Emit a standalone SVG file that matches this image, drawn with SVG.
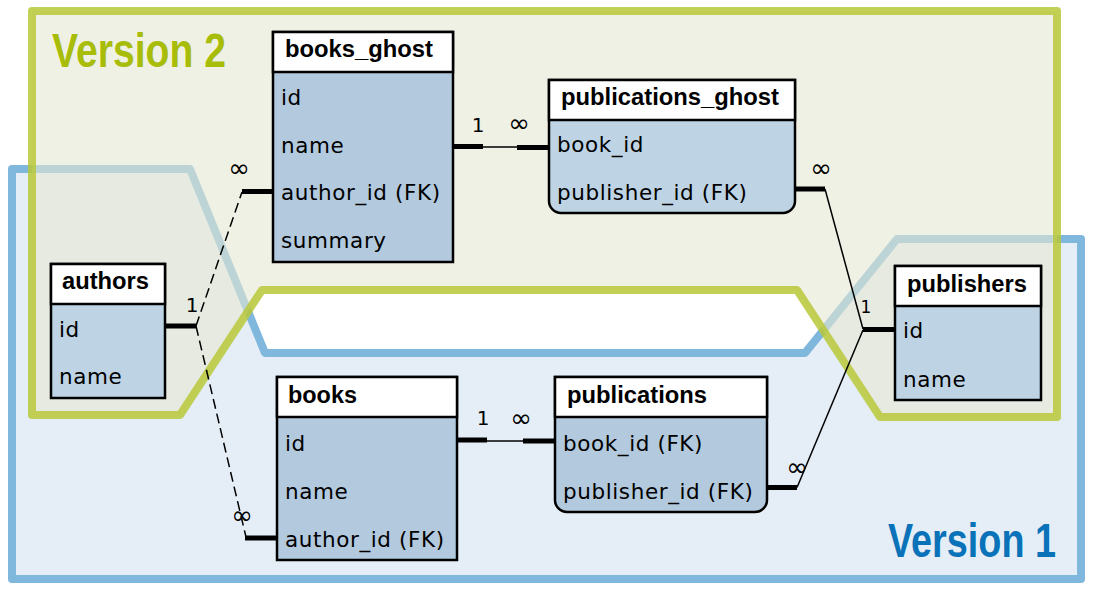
<svg xmlns="http://www.w3.org/2000/svg" width="1094" height="592" viewBox="0 0 1094 592">
<defs>
<style>
.hdr{fill:#ffffff;stroke:#000;stroke-width:2.5}
.body1{fill:#b3c9dd;stroke:#000;stroke-width:2.5}
.body2{fill:#bed3e3;stroke:#000;stroke-width:2.5}
.title{font-family:"Liberation Sans",Arial,sans-serif;font-weight:bold;font-size:23px;fill:#000}
.fld{font-family:"DejaVu Sans","Noto Sans",sans-serif;font-size:21.5px;letter-spacing:0.6px;fill:#000}
.lbl{font-family:"DejaVu Sans","Noto Sans",sans-serif;font-size:20px;fill:#000;text-anchor:middle}
.inf{font-family:"DejaVu Sans","Noto Sans",sans-serif;font-size:26px;fill:#000;text-anchor:middle}
.stub{stroke:#000;stroke-width:5;fill:none}
.thin{stroke:#000;stroke-width:1.5;fill:none}
.dash{stroke:#000;stroke-width:1.5;fill:none;stroke-dasharray:10 5}
.ver{font-family:"Liberation Sans",Arial,sans-serif;font-weight:bold;font-size:48px}
</style>
</defs>
<rect width="1094" height="592" fill="#ffffff"/>
<g id="version1">
<path d="M12,169 L190,169 L265,353 L805,353 L897,239 L1081,239 L1081,579 L12,579 Z" fill="#e5eef6" stroke="#80b7dc" stroke-width="8" stroke-linejoin="round"/>
<text class="ver" transform="translate(888,557) scale(0.787,1)" x="0" y="0" fill="#0a72b8">Version 1</text>
</g>
<g id="version2">
<path d="M32,11 L1057,11 L1057,417 L880,417 L797,290 L262,290 L180,415 L32,415 Z" fill="#e6e8d4" fill-opacity="0.6" stroke="#b8c838" stroke-opacity="0.85" stroke-width="8" stroke-linejoin="round"/>
<text class="ver" transform="translate(52,67) scale(0.815,1)" x="0" y="0" fill="#a8bc0a">Version 2</text>
</g>
<g id="books_ghost">
<rect class="body1" x="273" y="32" width="180" height="230"/>
<rect class="hdr" x="273" y="32" width="180" height="40"/>
<text class="title" x="285" y="57" textLength="148" lengthAdjust="spacingAndGlyphs">books_ghost</text>
<text class="fld" x="281" y="105">id</text>
<text class="fld" x="281" y="153">name</text>
<text class="fld" x="281" y="200">author_id (FK)</text>
<text class="fld" x="281" y="248">summary</text>
</g>
<g id="publications_ghost">
<path class="body2" d="M549,80 H795 V201 A12,12 0 0 1 783,213 H561 A12,12 0 0 1 549,201 Z"/>
<rect class="hdr" x="549" y="80" width="246" height="40"/>
<text class="title" x="561" y="105" textLength="218" lengthAdjust="spacingAndGlyphs">publications_ghost</text>
<text class="fld" x="557" y="152">book_id</text>
<text class="fld" x="557" y="200">publisher_id (FK)</text>
</g>
<g id="authors">
<rect class="body2" x="51" y="264" width="114" height="134"/>
<rect class="hdr" x="51" y="264" width="114" height="40"/>
<text class="title" x="62" y="289" textLength="87" lengthAdjust="spacingAndGlyphs">authors</text>
<text class="fld" x="59" y="337">id</text>
<text class="fld" x="59" y="384">name</text>
</g>
<g id="publishers">
<rect class="body2" x="895" y="266" width="146" height="134"/>
<rect class="hdr" x="895" y="266" width="146" height="40"/>
<text class="title" x="907" y="292" textLength="120" lengthAdjust="spacingAndGlyphs">publishers</text>
<text class="fld" x="903" y="338">id</text>
<text class="fld" x="903" y="387">name</text>
</g>
<g id="books">
<rect class="body1" x="277" y="377" width="180" height="183"/>
<rect class="hdr" x="277" y="377" width="180" height="40"/>
<text class="title" x="288" y="403" textLength="69" lengthAdjust="spacingAndGlyphs">books</text>
<text class="fld" x="285" y="451">id</text>
<text class="fld" x="285" y="499">name</text>
<text class="fld" x="285" y="547">author_id (FK)</text>
</g>
<g id="publications">
<path class="body1" d="M555,377 H767 V500 A12,12 0 0 1 755,512 H567 A12,12 0 0 1 555,500 Z"/>
<rect class="hdr" x="555" y="377" width="212" height="40"/>
<text class="title" x="567" y="403" textLength="140" lengthAdjust="spacingAndGlyphs">publications</text>
<text class="fld" x="563" y="451">book_id (FK)</text>
<text class="fld" x="563" y="499">publisher_id (FK)</text>
</g>
<g id="connectors">
<path class="stub" d="M453,146.5 H483"/>
<path class="thin" d="M483,147 H517"/>
<path class="stub" d="M517,147.5 H549"/>
<text class="lbl" x="478" y="132">1</text>
<text class="inf" x="519" y="132">∞</text>

<path class="stub" d="M457,440 H487"/>
<path class="thin" d="M487,441 H523"/>
<path class="stub" d="M523,441 H555"/>
<text class="lbl" x="483" y="425">1</text>
<text class="inf" x="521" y="427">∞</text>

<path class="stub" d="M165,326 H196"/>
<path class="dash" d="M196,326 L242,192"/>
<path class="stub" d="M242,191.5 H273"/>
<path class="dash" d="M196,326 L246,537"/>
<path class="stub" d="M245,538 H277"/>
<text class="lbl" x="192" y="312">1</text>
<text class="inf" x="239" y="177">∞</text>
<text class="inf" x="242" y="524">∞</text>

<path class="stub" d="M795,189 H825"/>
<path class="thin" d="M825,189 L863,329"/>
<path class="stub" d="M863,329.5 H895"/>
<path class="stub" d="M767,487.5 H797"/>
<path class="thin" d="M797,487.5 L863,330"/>
<text class="lbl" x="866" y="313" style="font-size:17px">1</text>
<text class="inf" x="821" y="177">∞</text>
<text class="inf" x="797" y="476">∞</text>
</g>
</svg>
